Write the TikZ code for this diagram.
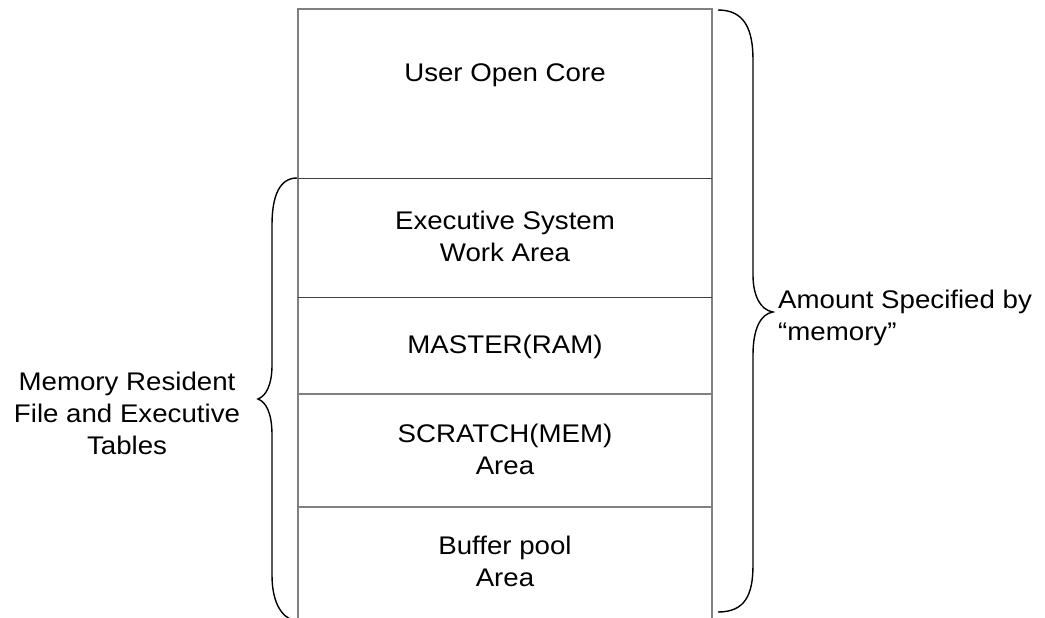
\documentclass[tikz,border=0pt]{standalone}
\usepackage{fontspec}
\setmainfont{Liberation Sans}[FakeStretch=1.085]
\usepackage{tikz}

\begin{document}
\begin{tikzpicture}[x=1pt,y=-1pt,
  wall/.style={draw=black!50,line width=1.3pt},
  rule/.style={draw=black!75,line width=1pt},
  lbl/.style={inner sep=0pt,align=center,font=\fontsize{25.5}{32}\selectfont},
  curly/.style={draw=black,line width=1.4pt}]
\useasboundingbox (0,0) rectangle (1045,618);
% memory map
\coordinate (tl) at (298,9);
\coordinate (tr) at (712,9);
\coordinate (bl) at (298,618);
\coordinate (br) at (712,618);
\draw[wall] (bl) -- (tl) -- (tr) -- (br);
\foreach \y/\c in {178/rule,297/rule,394/wall,507/wall}
  \draw[\c] (298,\y) -- (712,\y);
\node[lbl] (usercore) at (505,75) {User Open Core};
\node[lbl] (execarea) at (505,236) {Executive System\\Work Area};
\node[lbl] (master) at (505,347) {MASTER(RAM)};
\node[lbl] (scratch) at (505,449) {SCRATCH(MEM)\\Area};
\node[lbl] (bufpool) at (505,561) {Buffer pool\\Area};
% braces
\draw[curly] (718,10) .. controls (745,10) and (753,30) .. (753,60) -- (753,275)
  .. controls (753,295) and (760,310) .. (773,312)
  .. controls (760,314) and (753,330) .. (753,355) -- (753,565)
  .. controls (753,595) and (745,612) .. (718,612);
\draw[curly] (297,178) .. controls (280,178) and (272,195) .. (272,225) -- (272,365)
  .. controls (272,385) and (266,396) .. (258,399)
  .. controls (266,402) and (272,413) .. (272,435) -- (272,575)
  .. controls (272,600) and (280,617) .. (295,621);
\node[lbl] (resident) at (127,413) {Memory Resident\\File and Executive\\Tables};
\node[lbl,anchor=west,align=left] (amount) at (778,318) {Amount Specified by\\``memory''};
\end{tikzpicture}
\end{document}
